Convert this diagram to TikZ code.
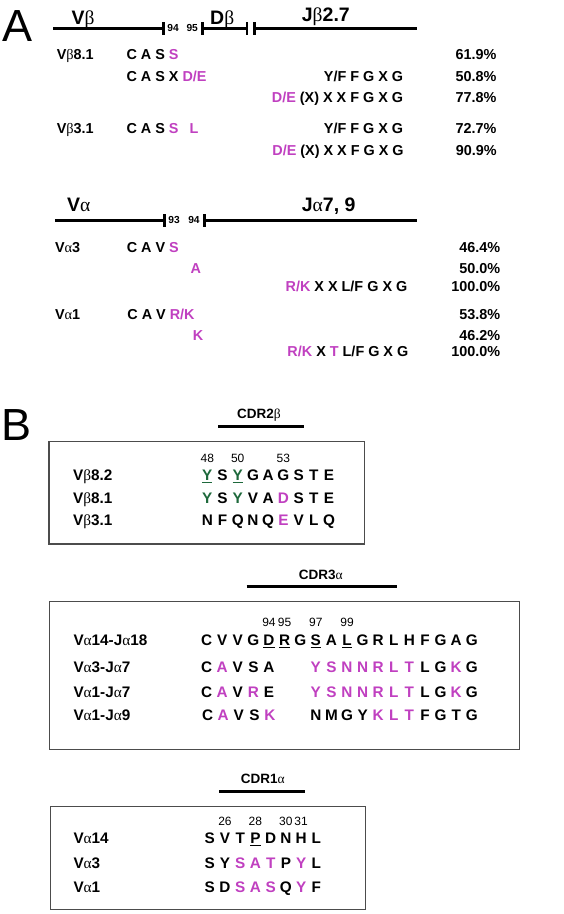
\documentclass[tikz,border=0pt]{standalone}
\usepackage{fontspec}
\setmainfont{Liberation Sans}
\newfontfamily\greekfont{Liberation Serif}

\definecolor{seqmag}{RGB}{192,64,192}
\definecolor{seqgrn}{RGB}{30,105,60}

\newcommand{\panelfont}{\fontsize{45}{50}\selectfont}
\newcommand{\genefont}{\fontsize{19.5}{23}\selectfont\bfseries}
\newcommand{\posfont}{\fontsize{10.2}{12}\selectfont\bfseries}
\newcommand{\rowfont}{\fontsize{14.4}{17}\selectfont\bfseries}
\newcommand{\cdrfont}{\fontsize{13.5}{16}\selectfont\bfseries}
\newcommand{\numfont}{\fontsize{12}{14}\selectfont}
\newcommand{\seqfont}{\fontsize{15.3}{18}\selectfont\bfseries}

\newcommand{\gbeta}{{\greekfont\mdseries β}}
\newcommand{\galpha}{{\greekfont\mdseries α}}
\newcommand{\mg}[1]{\textcolor{seqmag}{#1}}
\newcommand{\gn}[1]{\textcolor{seqgrn}{#1}}

\begin{document}
\begin{tikzpicture}[
    x=1pt, y=-1pt,
    panellab/.style={font=\panelfont, inner sep=0pt, anchor=base west},
    genelab/.style={font=\genefont, inner sep=0pt, anchor=base west},
    posnum/.style={font=\posfont, inner sep=0pt, anchor=base},
    rowlab/.style={font=\rowfont, inner sep=0pt, anchor=base west},
    rowtxt/.style={font=\rowfont, inner sep=0pt, anchor=base west},
    rowend/.style={font=\rowfont, inner sep=0pt, anchor=base east},
    pct/.style={font=\rowfont, inner sep=0pt, anchor=base east},
    cdr/.style={font=\cdrfont, inner sep=0pt, anchor=base},
    resnum/.style={font=\numfont, inner sep=0pt, anchor=base},
    seqlab/.style={font=\seqfont, inner sep=0pt, anchor=base west},
    resid/.style={font=\seqfont, inner sep=0pt, anchor=base},
    genebar/.style={line width=3pt},
    tickmark/.style={line width=2.6pt},
    cdrbar/.style={line width=2.8pt},
    seqbox/.style={draw=black!70, line width=1.2pt}
]
    \useasboundingbox (0,0) rectangle (563,914);

    % Panel A: beta chain
    \node[panellab] (pA) at (2,41) {A};
    \node[genelab] (lvb) at (71.5,24) {V\gbeta};
    \node[genelab] (ldb) at (210,24) {D\gbeta};
    \node[genelab] (ljb) at (301.7,21) {J\gbeta2.7};

    \coordinate (vb0) at (53.4,28);
    \coordinate (vb1) at (163.4,28);
    \coordinate (db0) at (202.4,28);
    \coordinate (db1) at (246.9,28);
    \coordinate (jb0) at (254.4,28);
    \coordinate (jb1) at (416.8,28);
    \draw[genebar] (vb0) -- (vb1);
    \draw[genebar] (db0) -- (db1);
    \draw[genebar] (jb0) -- (jb1);
    \foreach \t in {vb1,db0,db1,jb0}
        \draw[tickmark] ([yshift=-6.5pt]\t) -- ([yshift=6.5pt]\t);
    \node[posnum] (pb94) at (173.1,31.7) {94};
    \node[posnum] (pb95) at (192.2,31.7) {95};

    \node[rowlab] (vb81) at (56.6,59) {V\gbeta8.1};
    \node[rowtxt] (vb81a) at (126.3,59) {C A S \mg{S}};
    \node[pct] (vb81p) at (496.6,59) {61.9\%};
    \node[rowtxt] (vb81b) at (126.3,81) {C A S X \mg{D/E}};
    \node[rowend] (vb81c) at (403.3,81) {Y/F F G X G};
    \node[pct] (vb81q) at (496.6,81) {50.8\%};
    \node[rowend] (vb81d) at (403.3,102) {\mg{D/E} (X) X X F G X G};
    \node[pct] (vb81r) at (496.6,102) {77.8\%};

    \node[rowlab] (vb31) at (56.6,133) {V\gbeta3.1};
    \node[rowtxt] (vb31a) at (126.3,133) {C A S \mg{S}\hspace{11pt}\mg{L}};
    \node[rowend] (vb31b) at (403.3,133) {Y/F F G X G};
    \node[pct] (vb31p) at (496.6,133) {72.7\%};
    \node[rowend] (vb31c) at (403.8,155) {\mg{D/E} (X) X X F G X G};
    \node[pct] (vb31q) at (497,155) {90.9\%};

    % Panel A: alpha chain
    \node[genelab] (lva) at (66.8,211) {V\galpha};
    \node[genelab] (lja) at (301.7,211) {J\galpha7, 9};

    \coordinate (va0) at (54.8,220);
    \coordinate (va1) at (164.3,220);
    \coordinate (ja0) at (204.2,220);
    \coordinate (ja1) at (417.3,220);
    \draw[genebar] (va0) -- (va1);
    \draw[genebar] (ja0) -- (ja1);
    \foreach \t in {va1,ja0}
        \draw[tickmark] ([yshift=-6.5pt]\t) -- ([yshift=6.5pt]\t);
    \node[posnum] (pa93) at (174,223.7) {93};
    \node[posnum] (pa94) at (194,223.7) {94};

    \node[rowlab] (va3) at (54.8,252.3) {V\galpha3};
    \node[rowtxt] (va3a) at (126.6,252.3) {C A V \mg{S}};
    \node[pct] (va3p) at (500.4,252.3) {46.4\%};
    \node[rowtxt] (va3b) at (190.3,273.3) {\mg{A}};
    \node[pct] (va3q) at (500.4,273.3) {50.0\%};
    \node[rowend] (va3c) at (407.5,291) {\mg{R/K} X X L/F G X G};
    \node[pct] (va3r) at (500.4,291) {100.0\%};

    \node[rowlab] (va1) at (54.8,319) {V\galpha1};
    \node[rowtxt] (va1a) at (127.2,319) {C A V \mg{R/K}};
    \node[pct] (va1p) at (500.4,319) {53.8\%};
    \node[rowtxt] (va1b) at (192.6,340) {\mg{K}};
    \node[pct] (va1q) at (500.4,340) {46.2\%};
    \node[rowend] (va1c) at (408.5,356.7) {\mg{R/K} X \mg{T} L/F G X G};
    \node[pct] (va1r) at (500.4,356.7) {100.0\%};

    % Panel B: CDR2 beta
    \node[panellab] (pB) at (1,440) {B};
    \node[cdr] (cdr2) at (259,418) {CDR2\gbeta};
    \draw[cdrbar] (218.2,426.7) -- (304,426.7);
    \draw[seqbox] (49,441.7) rectangle (364.8,544);
    \node[resnum] (n48) at (207.3,462) {48};
    \node[resnum] (n50) at (237.7,462) {50};
    \node[resnum] (n53) at (283.4,462) {53};
    \node[seqlab] (b82) at (72.9,480.5) {V\gbeta8.2};
    \node[seqlab] (b81) at (72.9,503.2) {V\gbeta8.1};
    \node[seqlab] (b31) at (72.9,525.5) {V\gbeta3.1};
    \foreach \aa [count=\i from 0] in {\gn{\underline{Y}},S,\gn{\underline{Y}},G,A,G,S,T,E}
        \node[resid] (b82-\i) at ({207.3+15.22*\i},480.5) {\aa};
    \foreach \aa [count=\i from 0] in {\gn{Y},S,\gn{Y},V,A,\mg{D},S,T,E}
        \node[resid] (b81-\i) at ({207.3+15.22*\i},503.2) {\aa};
    \foreach \aa [count=\i from 0] in {N,F,Q,N,Q,\mg{E},V,L,Q}
        \node[resid] (b31-\i) at ({207.3+15.22*\i},525.5) {\aa};

    % Panel B: CDR3 alpha
    \node[cdr] (cdr3) at (320.8,579.8) {CDR3\galpha};
    \draw[cdrbar] (246.6,586.7) -- (397.3,586.7);
    \draw[seqbox] (49.2,601.7) rectangle (519.3,749.3);
    \node[resnum] (n94) at (269,626.2) {94};
    \node[resnum] (n95) at (284.6,626.2) {95};
    \node[resnum] (n97) at (315.8,626.2) {97};
    \node[resnum] (n99) at (347,626.2) {99};
    \node[seqlab] (a14) at (73.3,645.5) {V\galpha14-J\galpha18};
    \node[seqlab] (a37) at (73.3,672.2) {V\galpha3-J\galpha7};
    \node[seqlab] (a17) at (73.3,697.2) {V\galpha1-J\galpha7};
    \node[seqlab] (a19) at (73.3,720.5) {V\galpha1-J\galpha9};
    \foreach \aa [count=\i from 0] in {C,V,V,G,\underline{D},\underline{R},G,\underline{S},A,\underline{L},G,R,L,H,F,G,A,G}
        \node[resid] (a14-\i) at ({206.6+15.6*\i},645.5) {\aa};
    \foreach \aa [count=\i from 0] in {C,\mg{A},V,S,A}
        \node[resid] (a37-\i) at ({206.6+15.6*\i},672.2) {\aa};
    \foreach \aa [count=\i from 7] in {\mg{Y},\mg{S},\mg{N},\mg{N},\mg{R},\mg{L},\mg{T},L,G,\mg{K},G}
        \node[resid] (a37-\i) at ({206.6+15.6*\i},672.2) {\aa};
    \foreach \aa [count=\i from 0] in {C,\mg{A},V,\mg{R},E}
        \node[resid] (a17-\i) at ({206.6+15.6*\i},697.2) {\aa};
    \foreach \aa [count=\i from 7] in {\mg{Y},\mg{S},\mg{N},\mg{N},\mg{R},\mg{L},\mg{T},L,G,\mg{K},G}
        \node[resid] (a17-\i) at ({206.6+15.6*\i},697.2) {\aa};
    \foreach \aa [count=\i from 0] in {C,\mg{A},V,S,\mg{K}}
        \node[resid] (a19-\i) at ({207.6+15.6*\i},720.5) {\aa};
    \foreach \aa [count=\i from 7] in {N,M,G,Y,\mg{K},\mg{L},\mg{T},F,G,T,G}
        \node[resid] (a19-\i) at ({206.6+15.6*\i},720.5) {\aa};

    % Panel B: CDR1 alpha
    \node[cdr] (cdr1) at (262.7,783) {CDR1\galpha};
    \draw[cdrbar] (219,791.7) -- (305,791.7);
    \draw[seqbox] (50.7,806.7) rectangle (365.8,909.3);
    \node[resnum] (n26) at (225,825.2) {26};
    \node[resnum] (n28) at (255.4,825.2) {28};
    \node[resnum] (n30) at (285.9,825.2) {30};
    \node[resnum] (n31) at (301.1,825.2) {31};
    \node[seqlab] (v14) at (73.3,843.8) {V\galpha14};
    \node[seqlab] (v3) at (73.3,868.8) {V\galpha3};
    \node[seqlab] (v1) at (73.3,892.2) {V\galpha1};
    \foreach \aa [count=\i from 0] in {S,V,T,\underline{P},D,N,H,L}
        \node[resid] (v14-\i) at ({209.8+15.22*\i},843.8) {\aa};
    \foreach \aa [count=\i from 0] in {S,Y,\mg{S},\mg{A},\mg{T},P,\mg{Y},L}
        \node[resid] (v3-\i) at ({209.8+15.22*\i},868.8) {\aa};
    \foreach \aa [count=\i from 0] in {S,D,\mg{S},\mg{A},\mg{S},Q,\mg{Y},F}
        \node[resid] (v1-\i) at ({209.8+15.22*\i},892.2) {\aa};
\end{tikzpicture}
\end{document}
